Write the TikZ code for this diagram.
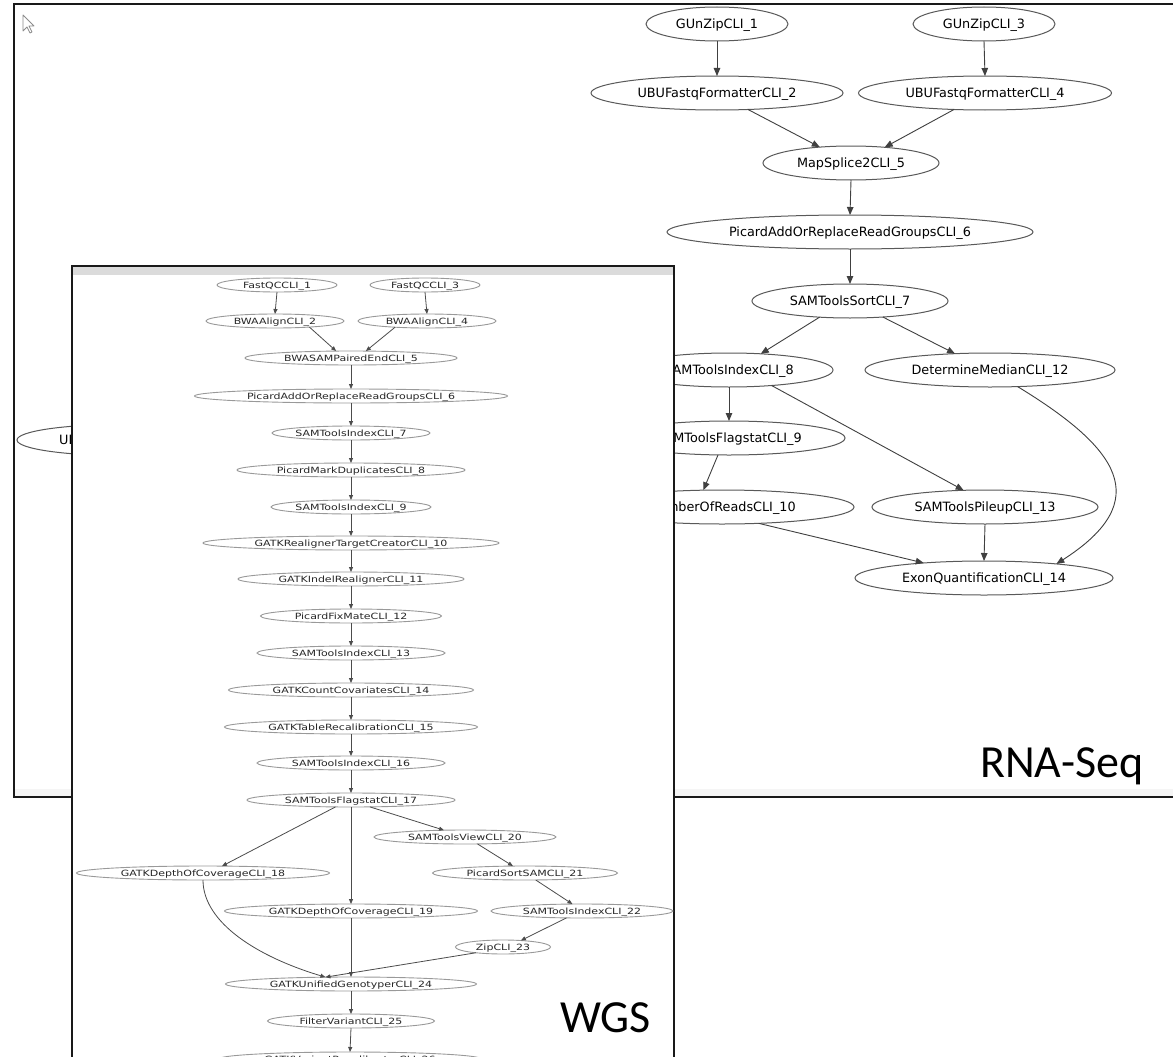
\documentclass[tikz,border=0pt]{standalone}
\usepackage{fontspec}
\setmainfont{DejaVu Sans}
\newfontfamily\titlefont{Carlito}
\usetikzlibrary{shapes.geometric,arrows.meta}
% centred, zero-size labels so that the ellipses take their size from the styles only
\newcommand\lbl[1]{\makebox[0pt]{\smash{\raisebox{-0.36em}{#1}}}}
\newcommand\wlbl[1]{\makebox[0pt]{\smash{\raisebox{-0.29em}{\scalebox{1}[0.78]{#1}}}}}
\begin{document}
\begin{tikzpicture}[x=1pt,y=-1pt,
  rnode/.style={ellipse, draw=black!65, line width=1pt, inner sep=0pt, outer sep=0pt,
    minimum height=34, minimum width=#1, fill=white,
    font=\fontsize{12.8}{14}\selectfont, text=black},
  wnode/.style={ellipse, draw=black!40, line width=0.9pt, inner sep=0pt, outer sep=0pt,
    minimum height=14, minimum width=#1, fill=white,
    font=\fontsize{11}{12}\selectfont, text=black!85},
  redge/.style={draw=black!75, line width=0.9pt, -{Triangle[length=8pt,width=6.5pt]}},
  wedge/.style={draw=black!70, line width=0.8pt, -{Triangle[length=5pt,width=4pt]}},
  winframe/.style={draw=black!90, line width=2pt},
  bigtitle/.style={font=\titlefont\fontsize{46}{50}\selectfont, inner sep=0pt, anchor=base west}
]
\useasboundingbox (0,0) rectangle (1173,1057);
\fill[white] (0,0) rectangle (1173,1057);

% ---------------- RNA-Seq window ----------------
\fill[black!4] (14,789) rectangle (1190,797);
\draw[winframe] (1190,4) -- (14,4) -- (14,797) -- (1190,797);
% mouse pointer
\draw[black!45, line width=0.8pt, line join=round]
  (23,15) -- (23,31) -- (27,27) -- (30,33) -- (32,32) -- (29,26) -- (34,26) -- cycle;

% partly hidden node on the left
\node[rnode=206, minimum height=31] (hid) at (120,440) {};
\node[font=\fontsize{12.8}{14}\selectfont, text=black, anchor=west, inner sep=0pt] (hidtxt) at (59,440) {UB};

\node[rnode=142] (g1)  at (717,24)  {\lbl{GUnZipCLI\_1}};
\node[rnode=142] (g3)  at (984,24)  {\lbl{GUnZipCLI\_3}};
\node[rnode=252] (u2)  at (717,93)  {\lbl{UBUFastqFormatterCLI\_2}};
\node[rnode=253] (u4)  at (985,93)  {\lbl{UBUFastqFormatterCLI\_4}};
\node[rnode=176] (m5)  at (851,163) {\lbl{MapSplice2CLI\_5}};
\node[rnode=366] (p6)  at (850,232) {\lbl{PicardAddOrReplaceReadGroupsCLI\_6}};
\node[rnode=196] (s7)  at (850,301) {\lbl{SAMToolsSortCLI\_7}};
\node[rnode=208] (i8)  at (729,370) {\lbl{SAMToolsIndexCLI\_8}};
\node[rnode=250] (d12) at (990,370) {\lbl{DetermineMedianCLI\_12}};
\node[rnode=232] (f9)  at (729,438) {\lbl{SAMToolsFlagstatCLI\_9}};
\node[rnode=264] (n10) at (722,507) {\lbl{NumberOfReadsCLI\_10}};
\node[rnode=226] (p13) at (985,507) {\lbl{SAMToolsPileupCLI\_13}};
\node[rnode=258] (e14) at (984,578) {\lbl{ExonQuantificationCLI\_14}};

\draw[redge] (g1.south) -- (u2.north);
\draw[redge] (g3.south) -- (u4.north);
\draw[redge] (u2.-28.5) -- (m5.153.4);
\draw[redge] (u4.208.5) -- (m5.25.3);
\draw[redge] (m5.south) -- (p6.north);
\draw[redge] (p6.south) -- (s7.north);
\draw[redge] (s7.208) -- (i8.27.3);
\draw[redge] (s7.334) -- (d12.155.3);
\draw[redge] (i8.south) -- (f9.north);
\draw[redge] (f9.237) -- (n10.138.2);
\draw[redge] (i8.-20.7) -- (p13.142.8);
\draw[redge] (n10.-24.8) -- (e14.166.4);
\draw[redge] (p13.south) -- (e14.north);
\draw[redge] (d12.-31) .. controls +(100,61) and +(100,-64) .. (e14.11.9);

\node[bigtitle] (rnalabel) at (980,777) {RNA-Seq};

% ---------------- WGS window ----------------
\fill[white] (72,266) rectangle (674,1070);
\fill[black!14] (73,267) rectangle (673,275);
\draw[winframe] (72,1070) -- (72,266) -- (674,266) -- (674,1070);

\node[wnode=120] (w1)  at (277,285)  {\wlbl{FastQCCLI\_1}};
\node[wnode=110] (w3)  at (425,285)  {\wlbl{FastQCCLI\_3}};
\node[wnode=138] (w2)  at (275,321)  {\wlbl{BWAAlignCLI\_2}};
\node[wnode=138] (w4)  at (427,321)  {\wlbl{BWAAlignCLI\_4}};
\node[wnode=212] (w5)  at (351,358)  {\wlbl{BWASAMPairedEndCLI\_5}};
\node[wnode=313] (w6)  at (351,396)  {\wlbl{PicardAddOrReplaceReadGroupsCLI\_6}};
\node[wnode=158] (w7)  at (351,433)  {\wlbl{SAMToolsIndexCLI\_7}};
\node[wnode=228] (w8)  at (351,470)  {\wlbl{PicardMarkDuplicatesCLI\_8}};
\node[wnode=160] (w9)  at (351,507)  {\wlbl{SAMToolsIndexCLI\_9}};
\node[wnode=296] (w10) at (351,543)  {\wlbl{GATKRealignerTargetCreatorCLI\_10}};
\node[wnode=226] (w11) at (351,579)  {\wlbl{GATKIndelRealignerCLI\_11}};
\node[wnode=181] (w12) at (351,616)  {\wlbl{PicardFixMateCLI\_12}};
\node[wnode=188] (w13) at (351,653)  {\wlbl{SAMToolsIndexCLI\_13}};
\node[wnode=245] (w14) at (351,690)  {\wlbl{GATKCountCovariatesCLI\_14}};
\node[wnode=253] (w15) at (351,727)  {\wlbl{GATKTableRecalibrationCLI\_15}};
\node[wnode=188] (w16) at (351,763)  {\wlbl{SAMToolsIndexCLI\_16}};
\node[wnode=208] (w17) at (351,800)  {\wlbl{SAMToolsFlagstatCLI\_17}};
\node[wnode=182] (w20) at (465,837)  {\wlbl{SAMToolsViewCLI\_20}};
\node[wnode=253] (w18) at (203,873)  {\wlbl{GATKDepthOfCoverageCLI\_18}};
\node[wnode=185] (w21) at (525,873)  {\wlbl{PicardSortSAMCLI\_21}};
\node[wnode=253] (w19) at (351,911)  {\wlbl{GATKDepthOfCoverageCLI\_19}};
\node[wnode=182] (w22) at (582,911)  {\wlbl{SAMToolsIndexCLI\_22}};
\node[wnode=95]  (w23) at (503,947)  {\wlbl{ZipCLI\_23}};
\node[wnode=251] (w24) at (351,984)  {\wlbl{GATKUnifiedGenotyperCLI\_24}};
\node[wnode=167] (w25) at (351,1021) {\wlbl{FilterVariantCLI\_25}};
\node[wnode=263] (w26) at (350,1059) {\wlbl{GATKVariantRecalibratorCLI\_26}};

\draw[wedge] (w1.south) -- (w2.north);
\draw[wedge] (w3.south) -- (w4.north);
\draw[wedge] (w2.-10.6) -- (w5.155.6);
\draw[wedge] (w4.191.3) -- (w5.25.5);
\foreach \a/\b in {w5/w6,w6/w7,w7/w8,w8/w9,w9/w10,w10/w11,w11/w12,w12/w13,
                   w13/w14,w14/w15,w15/w16,w16/w17,w17/w19,w19/w24,w24/w25,w25/w26}
  \draw[wedge] (\a.south) -- (\b.north);
\draw[wedge] (w17.204.4) -- (w18.20.9);
\draw[wedge] (w17.-20.3) -- (w20.162.6);
\draw[wedge] (w20.-29.4) -- (w21.150.6);
\draw[wedge] (w21.-33.7) -- (w22.144.5);
\draw[wedge] (w22.204.2) -- (w23.20.9);
\draw[wedge] (w23.192.5) -- (w24.165.2);
\draw[wedge] (w18.south) .. controls +(0,43) and +(-67,-20) .. (w24.165.2);

\node[bigtitle] (wgslabel) at (560,1032) {WGS};
\end{tikzpicture}
\end{document}
